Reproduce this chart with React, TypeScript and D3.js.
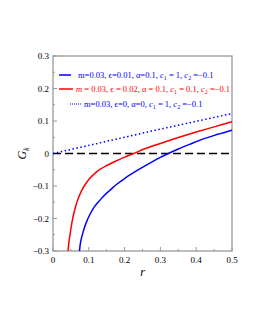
import React, { useEffect, useRef } from 'react';
import * as d3 from 'd3';

// values
const rBlue = [0.074, 0.077, 0.084, 0.092, 0.102, 0.115, 0.13, 0.145, 0.163, 0.18, 0.2, 0.215, 0.24, 0.262, 0.3, 0.322, 0.35, 0.383, 0.42, 0.46, 0.5];
const gBlue = [-0.3, -0.273, -0.242, -0.215, -0.19, -0.165, -0.145, -0.127, -0.109, -0.093, -0.077, -0.066, -0.049, -0.035, -0.012, 0, 0.014, 0.029, 0.045, 0.059, 0.072];
const rRed = [0.042, 0.045, 0.049, 0.053, 0.057, 0.064, 0.071, 0.08, 0.089, 0.1, 0.113, 0.131, 0.15, 0.17, 0.2, 0.225, 0.26, 0.3, 0.35, 0.4, 0.45, 0.5];
const gRed = [-0.3, -0.268, -0.239, -0.212, -0.19, -0.16, -0.137, -0.114, -0.097, -0.08, -0.065, -0.049, -0.037, -0.026, -0.011, 0, 0.016, 0.031, 0.049, 0.066, 0.082, 0.098];
const rDot = [0, 0.1, 0.2, 0.3, 0.4, 0.5];
const gDot = [0, 0.025, 0.05, 0.075, 0.099, 0.123];

const xTicks = [0, 0.1, 0.2, 0.3, 0.4, 0.5];
const yTicks = [-0.3, -0.2, -0.1, 0, 0.1, 0.2, 0.3];

const fmt = (v: number) => (Math.abs(v) < 1e-9 ? '0' : d3.format('.1f')(v));

export default function App() {
    const ref = useRef<SVGSVGElement>(null);

    useEffect(() => {
        const svg = d3.select(ref.current);
        svg.selectAll('*').remove();

        const left = 53, right = 232, top = 56, bottom = 251;
        const x = d3.scaleLinear().domain([0, 0.5]).range([left, right]);
        const y = d3.scaleLinear().domain([-0.3, 0.3]).range([bottom, top]);
        const serif = '"Liberation Serif", "Times New Roman", serif';

        svg.append('clipPath').attr('id', 'plotclip')
            .append('rect').attr('x', left).attr('y', top)
            .attr('width', right - left).attr('height', bottom - top);

        // minor + major ticks, inward
        const minorX = d3.range(0, 0.5001, 0.05);
        const minorY = d3.range(-0.3, 0.3001, 0.05);
        const tickCol = '#999';
        const g = svg.append('g').attr('stroke', tickCol).attr('stroke-width', 1);
        minorX.forEach((v, i) => {
            const len = i % 2 === 0 ? 4 : 2;
            g.append('line').attr('x1', x(v)).attr('x2', x(v)).attr('y1', bottom).attr('y2', bottom - len);
        });
        minorY.forEach((v, i) => {
            const len = i % 2 === 0 ? 4 : 2;
            g.append('line').attr('x1', left).attr('x2', left + len).attr('y1', y(v)).attr('y2', y(v));
        });

        // frame
        svg.append('rect').attr('x', left).attr('y', top)
            .attr('width', right - left).attr('height', bottom - top)
            .attr('fill', 'none').attr('stroke', tickCol).attr('stroke-width', 1.3);

        // tick labels
        svg.append('g').selectAll('text').data(xTicks).join('text')
            .attr('x', d => x(d)).attr('y', bottom + 12)
            .attr('text-anchor', 'middle').attr('font-family', serif).attr('font-size', 9)
            .text(d => fmt(d));
        svg.append('g').selectAll('text').data(yTicks).join('text')
            .attr('x', left - 4).attr('y', d => y(d) + 3)
            .attr('text-anchor', 'end').attr('font-family', serif).attr('font-size', 9)
            .text(d => fmt(d));

        // axis titles
        svg.append('text').attr('x', x(0.25)).attr('y', bottom + 25)
            .attr('text-anchor', 'middle').attr('font-family', serif).attr('font-style', 'italic')
            .attr('font-size', 12).text('r');
        const yl = svg.append('text').attr('transform', `translate(26,${y(0)}) rotate(-90)`)
            .attr('text-anchor', 'middle').attr('font-family', serif).attr('font-style', 'italic')
            .attr('font-size', 12);
        yl.append('tspan').text('G');
        yl.append('tspan').attr('font-size', 8).attr('dy', 3).text('k');

        const plot = svg.append('g').attr('clip-path', 'url(#plotclip)');

        // zero line
        plot.append('line').attr('x1', x(0)).attr('x2', x(0.5)).attr('y1', y(0)).attr('y2', y(0))
            .attr('stroke', '#000').attr('stroke-width', 1.6).attr('stroke-dasharray', '8,4');

        const line = d3.line<[number, number]>()
            .x(d => x(d[0])).y(d => y(d[1])).curve(d3.curveCatmullRom.alpha(0.5));

        plot.append('path').datum(rBlue.map((r, i) => [r, gBlue[i]] as [number, number]))
            .attr('fill', 'none').attr('stroke', '#0000ff').attr('stroke-width', 1.5).attr('d', line);
        plot.append('path').datum(rRed.map((r, i) => [r, gRed[i]] as [number, number]))
            .attr('fill', 'none').attr('stroke', '#ff0000').attr('stroke-width', 1.5).attr('d', line);
        plot.append('path').datum(rDot.map((r, i) => [r, gDot[i]] as [number, number]))
            .attr('fill', 'none').attr('stroke', '#0000ff').attr('stroke-width', 1.5)
            .attr('stroke-dasharray', '1.5,2.5').attr('d', line);

        // legend
        const leg = svg.append('g').attr('font-family', serif).attr('font-size', 8.5);
        leg.append('line').attr('x1', 59).attr('x2', 71).attr('y1', 75).attr('y2', 75)
            .attr('stroke', '#0000ff').attr('stroke-width', 1.5);
        leg.append('line').attr('x1', 59).attr('x2', 73).attr('y1', 89).attr('y2', 89)
            .attr('stroke', '#ff0000').attr('stroke-width', 1.5);
        leg.append('line').attr('x1', 70).attr('x2', 81).attr('y1', 104).attr('y2', 104)
            .attr('stroke', '#0000ff').attr('stroke-width', 1.2).attr('stroke-dasharray', '1,1');

        const addText = (tx: number, ty: number, color: string, parts: [string, string?][]) => {
            const t = leg.append('text').attr('x', tx).attr('y', ty).attr('fill', color);
            parts.forEach(([s, kind]) => {
                if (kind === 'i') t.append('tspan').attr('font-style', 'italic').text(s);
                else if (kind === 'sub') t.append('tspan').attr('font-size', 6).attr('dy', 2).text(s);
                else if (kind === 'up') t.append('tspan').attr('dy', -2).text(s);
                else t.append('tspan').text(s);
            });
        };
        addText(78, 78, '#0000ff', [
            ['m=0.03, \u03f5=0.01, \u03b1=0.1, '], ['c', 'i'], ['1', 'sub'], [' = 1, ', 'up'],
            ['c', 'i'], ['2', 'sub'], [' =\u22120.1', 'up'],
        ]);
        addText(76, 92, '#ff0000', [
            ['m', 'i'], [' = 0.03, \u03f5 = 0.02, \u03b1 = 0.1, '], ['c', 'i'], ['1', 'sub'], [' = 0.1, ', 'up'],
            ['c', 'i'], ['2', 'sub'], [' =\u22120.1', 'up'],
        ]);
        addText(84, 107, '#0000ff', [
            ['m=0.03, \u03f5=0, \u03b1=0, '], ['c', 'i'], ['1', 'sub'], [' = 1, ', 'up'],
            ['c', 'i'], ['2', 'sub'], [' =\u22120.1', 'up'],
        ]);
    }, []);

    return (
        <div style={{ position: 'absolute', left: 0, top: 0 }}>
            <svg ref={ref} width={255} height={330} style={{ display: 'block', background: '#fff' }} />
        </div>
    );
}
